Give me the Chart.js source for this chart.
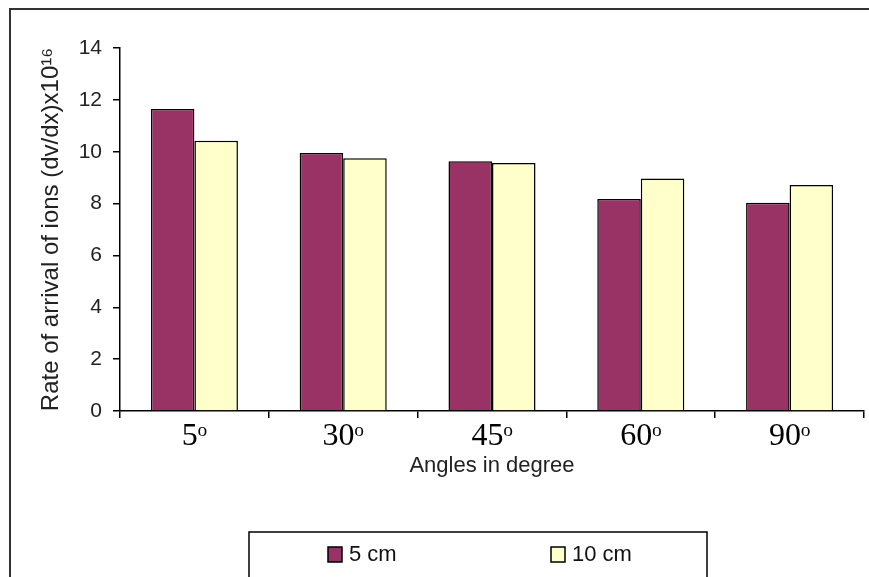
<!DOCTYPE html>
<html>
<head>
<meta charset="utf-8">
<script src="https://cdn.jsdelivr.net/npm/chart.js@4.4.0/dist/chart.umd.min.js"></script>
<style>
  body { margin: 0; background: #fff; }
  #wrap { width: 869px; height: 577px; }
</style>
</head>
<body>
<div id="wrap"><canvas id="myChart" width="869" height="577"></canvas></div>
<script>
// angles and measured rates (x10^16)
const angles = ["5ᵒ", "30ᵒ", "45ᵒ", "60ᵒ", "90ᵒ"];
const rate5cm = [11.65, 9.95, 9.63, 8.18, 8.03];
const rate10cm = [10.42, 9.75, 9.56, 8.97, 8.72];
const seriesNames = ["5 cm", "10 cm"];
const yTicks = [0, 2, 4, 6, 8, 10, 12, 14];

// outer frame (left + top edges only are visible)
const framePlugin = {
  id: "frame",
  beforeDraw(chart) {
    const c = chart.ctx;
    c.save();
    c.fillStyle = "#fff";
    c.fillRect(0, 0, chart.width, chart.height);
    c.strokeStyle = "#333";
    c.lineWidth = 2;
    c.beginPath();
    c.moveTo(10, chart.height);
    c.lineTo(10, 9);
    c.lineTo(chart.width, 9);
    c.stroke();
    c.restore();
  },
};

// boxed legend like the excel one
const boxLegend = {
  id: "boxLegend",
  afterDraw(chart) {
    const c = chart.ctx;
    const ds = chart.data.datasets;
    const xs = [328, 551];
    c.save();
    c.strokeStyle = "#000";
    c.lineWidth = 1.5;
    c.strokeRect(249, 532, 458, 46);
    c.font = "22px 'Liberation Sans', Arial, sans-serif";
    c.textBaseline = "middle";
    ds.forEach((d, i) => {
      c.fillStyle = d.backgroundColor;
      c.fillRect(xs[i], 547, 14, 15);
      c.lineWidth = 1.5;
      c.strokeRect(xs[i], 547, 14, 15);
      c.fillStyle = "#111";
      c.fillText(d.label, xs[i] + 21, 555);
    });
    c.restore();
  },
};

const ctx = document.getElementById("myChart").getContext("2d");
const myChart = new Chart(ctx, {
  type: "bar",
  data: {
    labels: angles,
    datasets: [
      {
        label: seriesNames[0],
        data: rate5cm,
        backgroundColor: "#993366",
        borderColor: "#000",
        borderWidth: 1.5,
        categoryPercentage: 0.585,
        barPercentage: 1,
      },
      {
        label: seriesNames[1],
        data: rate10cm,
        backgroundColor: "#FFFFCC",
        borderColor: "#000",
        borderWidth: 1.5,
        categoryPercentage: 0.585,
        barPercentage: 1,
      },
    ],
  },
  options: {
    responsive: false,
    animation: false,
    layout: { padding: { top: 48, left: 0, right: 5, bottom: 97 } },
    plugins: {
      legend: { display: false },
      tooltip: { enabled: false },
    },
    scales: {
      x: {
        grid: { drawOnChartArea: false, color: "#000", tickLength: 7, lineWidth: 1.5 },
        border: { color: "#000", width: 1.5 },
        ticks: {
          color: "#000",
          padding: 3,
          font: { family: "'Liberation Serif', 'Times New Roman', serif", size: 32, lineHeight: 1 },
        },
        title: {
          display: true,
          text: "Angles in degree",
          color: "#222",
          padding: { top: 4, bottom: 1 },
          font: { family: "'Liberation Sans', Arial, sans-serif", size: 22 },
        },
        afterFit(scale) { scale.height = 69; },
      },
      y: {
        min: 0,
        max: 14,
        afterBuildTicks(scale) { scale.ticks = yTicks.map((v) => ({ value: v })); },
        grid: { drawOnChartArea: false, color: "#000", tickLength: 7, lineWidth: 1.5 },
        border: { color: "#000", width: 1.5 },
        ticks: {
          color: "#222",
          padding: 11,
          font: { family: "'Liberation Sans', Arial, sans-serif", size: 21 },
        },
        title: {
          display: true,
          text: "Rate of arrival of ions (dv/dx)x10¹⁶",
          color: "#222",
          padding: { top: 37, bottom: 0 },
          font: { family: "'Liberation Sans', Arial, sans-serif", size: 24 },
        },
        afterFit(scale) { scale.width = 120; },
      },
    },
  },
  plugins: [framePlugin, boxLegend],
});
</script>
</body>
</html>
